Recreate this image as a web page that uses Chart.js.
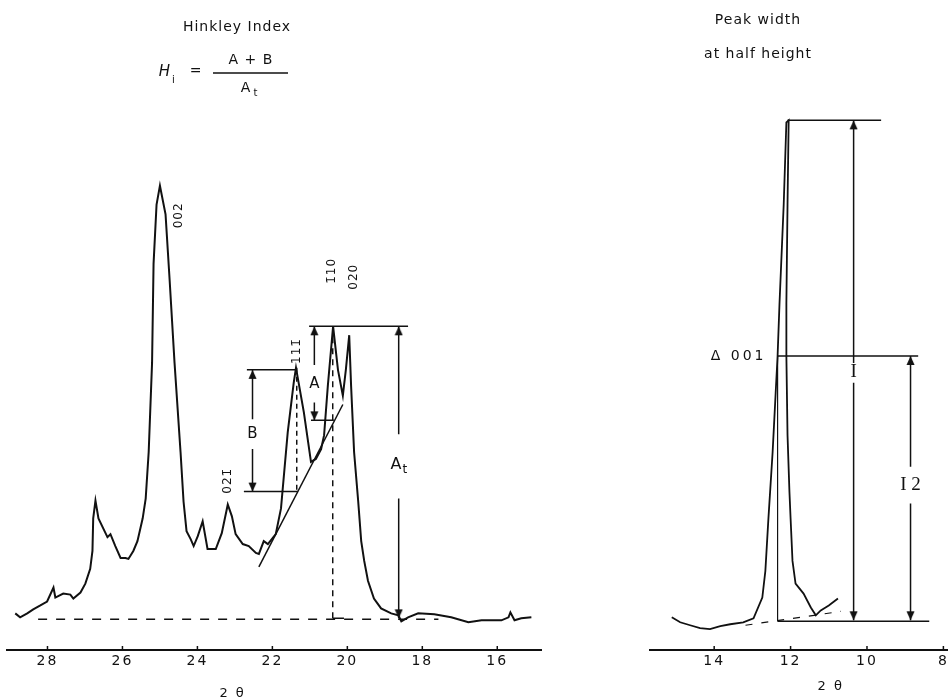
<!DOCTYPE html>
<html>
<head>
<meta charset="utf-8">
<script src="https://cdn.jsdelivr.net/npm/chart.js@4.4.1/dist/chart.umd.min.js"></script>
<style>
  html, body { margin: 0; padding: 0; background: #fff; }
  #wrap { position: relative; width: 948px; height: 698px; overflow: hidden; }
  #leftBox { position: absolute; left: 0; top: 0; width: 548px; height: 698px; }
  #rightBox { position: absolute; left: 640px; top: 0; width: 316px; height: 698px; }
</style>
</head>
<body>
<div id="wrap">
  <div id="leftBox"><canvas id="hinkley"></canvas></div>
  <div id="rightBox"><canvas id="peakWidth"></canvas></div>
</div>
<script>
// --- left pattern (Hinkley index), 2θ in degrees, relative intensity
const leftTwoTheta = [28.86, 28.73, 28.54, 28.38, 28.19, 28.01, 27.84, 27.79, 27.58, 27.39, 27.31, 27.12, 26.99, 26.86, 26.80,
  26.78, 26.72, 26.64, 26.40, 26.32, 26.19, 26.05, 25.92, 25.84, 25.71, 25.60, 25.46, 25.38, 25.30, 25.21, 25.17, 25.09,
  25.00, 24.85, 24.74, 24.61, 24.45, 24.37, 24.29, 24.18, 24.10, 23.99, 23.86, 23.73, 23.51, 23.35, 23.19, 23.08, 22.98,
  22.79, 22.63, 22.44, 22.36, 22.23, 22.12, 21.91, 21.77, 21.59, 21.43, 21.37, 21.16, 20.97, 20.84, 20.70, 20.62, 20.52,
  20.38, 20.25, 20.12, 20.04, 19.95, 19.90, 19.82, 19.71, 19.63, 19.55, 19.45, 19.29, 19.10, 18.83, 18.64, 18.56, 18.38,
  18.11, 17.68, 17.23, 16.77, 16.42, 15.89, 15.70, 15.65, 15.54, 15.36, 15.09];
const leftIntensity = [37, 33, 37, 41, 45, 49, 63, 53, 57, 56, 52, 58, 67, 82, 100,
  133, 151, 133, 114, 117, 105, 93, 93, 92, 100, 110, 133, 153, 200, 290, 390, 450,
  469, 440, 373, 290, 200, 150, 120, 112, 105, 115, 130, 102, 102, 118, 147, 135, 117,
  107, 105, 98, 97, 110, 107, 117, 143, 220, 270, 285, 240, 190, 193, 203, 217, 267,
  327, 283, 257, 283, 318, 267, 200, 150, 110, 90, 70, 52, 42, 37, 35, 29, 33,
  37, 36, 33, 28, 30, 30, 33, 38, 30, 32, 33];
const leftTicks = [28, 26, 24, 22, 20, 18, 16];

// --- right pattern (001 peak), 2θ in degrees, relative intensity
const rightTwoTheta = [15.11, 14.89, 14.63, 14.37, 14.11, 13.84, 13.58, 13.24, 12.97, 12.74, 12.66, 12.58, 12.47, 12.39,
  12.34, 12.29, 12.18, 12.11, 12.05, 12.08, 12.11, 12.11, 12.08, 12.03, 12.00, 11.95, 11.87, 11.66, 11.47, 11.34, 11.21,
  11.00, 10.76];
const rightIntensity = [33, 28, 25, 22, 21, 24, 26, 28, 32, 53, 80, 133, 200, 260,
  297, 350, 450, 533, 535, 450, 350, 297, 217, 160, 133, 90, 67, 57, 43, 35, 40,
  45, 52];
const rightTicks = [14, 12, 10, 8];

// construction lines [2θ, intensity] pairs
const leftBaseline = [[28.25, 31], [17.57, 31]];
const leftTangent = [[22.36, 84], [20.12, 248]];
const peak111Drop = [[21.35, 285], [21.35, 160]];
const bBottom = [[22.76, 160], [21.32, 160]];
const bTop = [[22.68, 283], [21.37, 283]];
const aTop = [[21.02, 327], [18.38, 327]];
const aBottom = [[20.97, 232], [20.36, 232]];
const peak110Drop = [[20.39, 327], [20.39, 32]];
const peak110Foot = [[20.39, 32], [20.09, 32]];
// arrows: x, top, bottom, gap around label
const leftArrows = [
  { x: 22.53, top: 283, bottom: 160, gap: [233, 203] },
  { x: 20.88, top: 327, bottom: 232, gap: [288, 250] },
  { x: 18.63, top: 327, bottom: 32, gap: [218, 153] }
];
const leftLabels = [
  { text: '002', x: 24.49, y: 439, rot: -90, size: 12 },
  { text: '021\u0304', x: 23.19, y: 171, rot: -90, size: 12 },
  { text: '111\u0304', x: 21.34, y: 302, rot: -90, size: 12 },
  { text: '1\u030410', x: 20.40, y: 383, rot: -90, size: 12 },
  { text: '020', x: 19.82, y: 377, rot: -90, size: 12 },
  { text: 'B', x: 22.53, y: 218, size: 15 },
  { text: 'A', x: 20.88, y: 269, size: 15 },
  { text: 'A', sub: 't', x: 18.70, y: 187, size: 16 },
  { text: '2 \u03b8', x: 23.06, y: -44, size: 13, spacing: '2px' }
];

const rightTop = [[12.08, 535], [9.63, 535]];
const halfHeight = [[12.34, 297], [8.66, 297]];
const rightBottom = [[12.34, 29], [8.37, 29]];
const rightDrop = [[12.34, 297], [12.34, 29]];
const rightBaseline = [[13.18, 25], [10.68, 39]];
const rightArrows = [
  { x: 10.35, top: 535, bottom: 30, gap: [290, 270] },
  { x: 8.86, top: 297, bottom: 30, gap: [185, 148] }
];
const rightLabels = [
  { text: '\u0394 001', x: 12.63, y: 297, size: 14, align: 'right', spacing: '3px' },
  { text: 'I', x: 10.35, y: 281, size: 19, serif: true },
  { text: 'I 2', x: 8.86, y: 167, size: 19, serif: true },
  { text: '2 \u03b8', x: 10.95, y: -37, size: 13, spacing: '2px' }
];

const INK = '#111';
const SANS = '"DejaVu Sans", sans-serif';

function arrowHead(up) {
  const c = document.createElement('canvas');
  c.width = 9; c.height = 22;
  const g = c.getContext('2d');
  g.fillStyle = INK;
  g.beginPath();
  if (up) { g.moveTo(4.5, 11); g.lineTo(0.5, 20); g.lineTo(8.5, 20); }
  else { g.moveTo(4.5, 11); g.lineTo(0.5, 2); g.lineTo(8.5, 2); }
  g.closePath();
  g.fill();
  return c;
}
const UP = arrowHead(true), DOWN = arrowHead(false);

const pts = arr => arr.map(p => ({ x: p[0], y: p[1] }));
function seg(arr, width, dash) {
  return { data: pts(arr), borderColor: INK, borderWidth: width || 1.5, borderDash: dash || [], pointRadius: 0, tension: 0 };
}
function arrow(a) {
  return {
    data: [{ x: a.x, y: a.top }, { x: a.x, y: a.gap[0] }, { x: a.x, y: null }, { x: a.x, y: a.gap[1] }, { x: a.x, y: a.bottom }],
    borderColor: INK, borderWidth: 1.5, spanGaps: false,
    pointRadius: [5, 0, 0, 0, 5], pointStyle: [UP, UP, UP, UP, DOWN]
  };
}

const texts = {
  id: 'texts',
  beforeDraw(chart) { chart.ctx.letterSpacing = '2px'; },
  afterDraw(chart, args, opts) {
    const { ctx, scales: { x, y } } = chart;
    ctx.save();
    ctx.letterSpacing = '0px';
    // little upward tick marks on the axis
    ctx.strokeStyle = INK; ctx.lineWidth = 1.5;
    const yb = chart.chartArea.bottom;
    x.ticks.forEach(t => {
      const px = x.getPixelForValue(t.value);
      ctx.beginPath(); ctx.moveTo(px, yb); ctx.lineTo(px, yb - 4); ctx.stroke();
    });
    ctx.fillStyle = INK;
    ctx.textBaseline = 'middle';
    (opts.labels || []).forEach(l => {
      ctx.save();
      ctx.translate(x.getPixelForValue(l.x), y.getPixelForValue(l.y));
      if (l.rot) ctx.rotate(l.rot * Math.PI / 180);
      ctx.font = l.size + 'px ' + (l.serif ? '"Liberation Serif", serif' : SANS);
      ctx.letterSpacing = l.spacing || (l.rot ? '1px' : '0px');
      ctx.textAlign = l.align || 'center';
      ctx.fillText(l.text, 0, 0);
      if (l.sub) {
        const w = ctx.measureText(l.text).width;
        ctx.font = Math.round(l.size * 0.75) + 'px ' + SANS;
        ctx.textAlign = 'left';
        ctx.fillText(l.sub, w / 2 + 1, 5);
      }
      ctx.restore();
    });
    if (opts.header) opts.header(ctx);
    ctx.restore();
  }
};

function xAxis(min, max, tickList) {
  return {
    type: 'linear', reverse: true, min: min, max: max,
    afterBuildTicks: s => { s.ticks = tickList.map(v => ({ value: v })); },
    grid: { display: false, drawTicks: false },
    border: { display: true, color: INK, width: 2 },
    ticks: { color: INK, font: { family: SANS, size: 14, lineHeight: 1 }, padding: 4, maxRotation: 0, autoSkip: false },
    title: { display: false, text: '2 \u03b8' }
  };
}
const yAxis = { type: 'linear', display: false, min: 0, max: 650 };

new Chart(document.getElementById('hinkley'), {
  type: 'line',
  data: {
    datasets: [
      { data: leftTwoTheta.map((t, i) => ({ x: t, y: leftIntensity[i] })), borderColor: INK, borderWidth: 2, pointRadius: 0, tension: 0 },
      seg(leftBaseline, 1.5, [9, 9]),
      seg(leftTangent),
      seg(peak111Drop, 1.5, [5, 4]),
      seg(bBottom), seg(bTop), seg(aTop), seg(aBottom),
      seg(peak110Drop, 1.5, [6, 5]),
      seg(peak110Foot),
      ...leftArrows.map(arrow)
    ]
  },
  options: {
    responsive: true, maintainAspectRatio: false, animation: false, events: [],
    layout: { padding: { left: 7, right: 5, top: 0, bottom: 26 } },
    scales: { x: xAxis(14.82, 29.08, leftTicks), y: yAxis },
    plugins: {
      legend: { display: false }, tooltip: { enabled: false },
      texts: {
        labels: leftLabels,
        header(ctx) {
          ctx.textAlign = 'center';
          ctx.font = '14px ' + SANS;
          ctx.letterSpacing = '1px';
          ctx.fillText('Hinkley Index', 237, 27);
          ctx.font = 'italic 15px ' + SANS;
          ctx.fillText('H', 165, 72);
          ctx.font = '10px ' + SANS;
          ctx.fillText('i', 174, 80);
          ctx.font = '14px ' + SANS;
          ctx.fillText('=', 196, 71);
          ctx.fillText('A + B', 251, 60);
          ctx.fillText('A', 246, 88);
          ctx.font = '10px ' + SANS;
          ctx.fillText('t', 256, 93);
          ctx.lineWidth = 1.5;
          ctx.beginPath(); ctx.moveTo(213, 73); ctx.lineTo(288, 73); ctx.stroke();
        }
      }
    }
  },
  plugins: [texts]
});

new Chart(document.getElementById('peakWidth'), {
  type: 'line',
  data: {
    datasets: [
      { data: rightTwoTheta.map((t, i) => ({ x: t, y: rightIntensity[i] })), borderColor: INK, borderWidth: 1.8, pointRadius: 0, tension: 0 },
      seg(rightTop), seg(halfHeight), seg(rightBottom), seg(rightDrop, 1.2),
      seg(rightBaseline, 1.2, [7, 9]),
      ...rightArrows.map(arrow)
    ]
  },
  options: {
    responsive: true, maintainAspectRatio: false, animation: false, events: [],
    layout: { padding: { left: 10, right: 0, top: 0, bottom: 26 } },
    scales: { x: xAxis(7.84, 15.68, rightTicks), y: yAxis },
    plugins: {
      legend: { display: false }, tooltip: { enabled: false },
      texts: {
        labels: rightLabels,
        header(ctx) {
          ctx.textAlign = 'center';
          ctx.font = '14px ' + SANS;
          ctx.letterSpacing = '1px';
          ctx.fillText('Peak width', 118, 20);
          ctx.fillText('at half height', 118, 54);
        }
      }
    }
  },
  plugins: [texts]
});
</script>
</body>
</html>
